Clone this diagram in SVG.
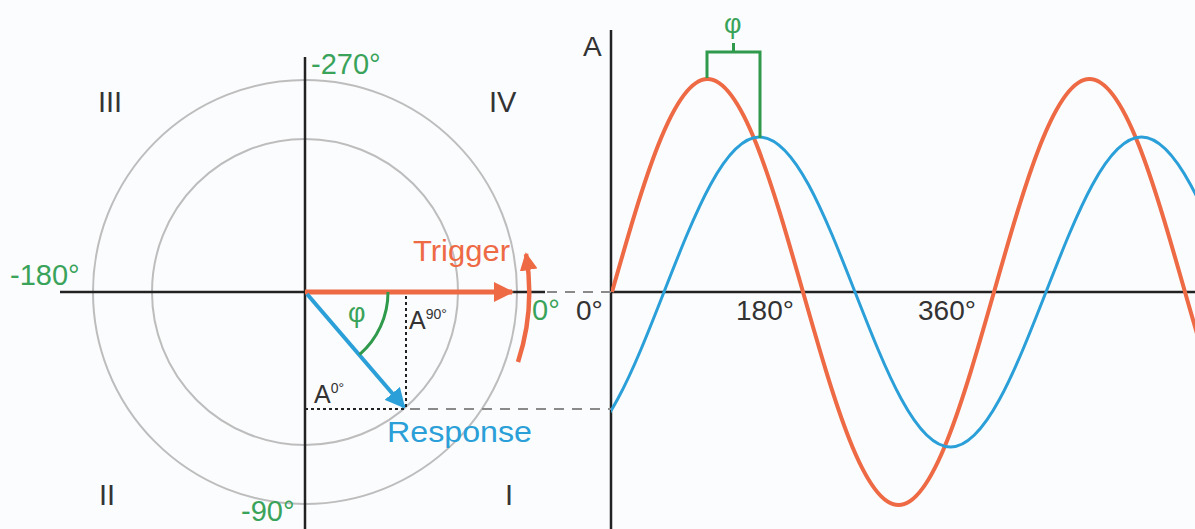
<svg xmlns="http://www.w3.org/2000/svg" width="1195" height="529" viewBox="0 0 1195 529">
<style>
text{font-family:"Liberation Sans",Arial,sans-serif;}
.g{fill:#3aa35a;}
.k{fill:#333333;}
.o{fill:#ee6a45;}
.b{fill:#2a9fd8;}
.ring{fill:none;stroke:#bdbdbd;stroke-width:2;}
.axis{stroke:#222;stroke-width:2.5;fill:none;}
.dot{stroke:#222;stroke-width:2;stroke-dasharray:3 3;fill:none;}
.dash{stroke:#8a8a8a;stroke-width:2;stroke-dasharray:10 8;fill:none;}
</style>
<defs>
<marker id="ao" viewBox="0 0 10 10" refX="9" refY="5" markerWidth="4" markerHeight="4" orient="auto" markerUnits="strokeWidth"><path d="M0 0L10 5L0 10z" fill="#ee6a45"/></marker>
<marker id="ab" viewBox="0 0 10 10" refX="9" refY="5" markerWidth="5" markerHeight="5" orient="auto" markerUnits="strokeWidth"><path d="M0 0L10 5L0 10z" fill="#2a9fd8"/></marker>
<clipPath id="plot"><rect x="611" y="0" width="600" height="529"/></clipPath>
</defs>
<rect width="1195" height="529" fill="#fbfcfe"/>
<g id="polar-rings">
<circle class="ring" cx="305" cy="292" r="212"/>
<circle class="ring" cx="305" cy="292" r="153"/>
</g>
<g id="axes">
<line class="axis" x1="60" y1="292" x2="545" y2="292"/>
<line class="axis" x1="305" y1="57" x2="305" y2="529"/>
<line class="axis" x1="611" y1="30" x2="611" y2="529" stroke-width="3"/>
<line class="axis" x1="611" y1="292" x2="1195" y2="292" stroke-width="3"/>
</g>
<g id="waves" clip-path="url(#plot)">
<path id="trigger-wave" fill="none" stroke="#ee6a45" stroke-width="4" d="M612 292C643.1 182.9 672.9 79 707.5 79C742.1 79 771.9 182.9 803 292C834.1 401.1 863.9 505 898.5 505C933.1 505 962.9 401.1 994 292C1025.1 182.9 1054.9 79 1089.5 79C1124.1 79 1153.9 182.9 1185 292C1216.1 401.1 1245.9 505 1280.5 505"/>
<path id="response-wave" fill="none" stroke="#2a9fd8" stroke-width="3" d="M568.5 447C603.1 447 632.9 371.4 664 292C695.1 212.6 724.9 137 759.5 137C794.1 137 823.9 212.6 855 292C886.1 371.4 915.9 447 950.5 447C985.1 447 1014.9 371.4 1046 292C1077.1 212.6 1106.9 137 1141.5 137C1176.1 137 1205.9 212.6 1237 292"/>
</g>
<g id="connectors">
<line class="dot" x1="406" y1="296" x2="406" y2="409"/>
<line class="dot" x1="305" y1="409" x2="406" y2="409"/>
<line class="dash" x1="410" y1="409" x2="611" y2="409"/>
<line class="dash" x1="547" y1="292" x2="611" y2="292"/>
<line id="trigger-vector" x1="305" y1="292" x2="512" y2="292" stroke="#ee6a45" stroke-width="5" marker-end="url(#ao)"/>
<line id="response-vector" x1="307" y1="294" x2="404" y2="407" stroke="#2a9fd8" stroke-width="4" marker-end="url(#ab)"/>
<path id="rotation" d="M518 362A225 225 0 0 0 526 254" fill="none" stroke="#ee6a45" stroke-width="4.5" marker-end="url(#ao)"/>
<path id="phi-arc" d="M388 292A83 83 0 0 1 359.5 354.7" fill="none" stroke="#2f9a4b" stroke-width="3"/>
<path id="phi-bracket" d="M707 78V52H760V138M733.5 52V43" fill="none" stroke="#2f9a4b" stroke-width="3"/>
</g>
<g id="labels-polar">
<text class="g" x="311" y="74" font-size="29">-270°</text>
<text class="g" x="10" y="285" font-size="29">-180°</text>
<text class="g" x="241" y="521" font-size="29">-90°</text>
<text class="g" x="532" y="320" font-size="29">0°</text>
<text class="k" x="98" y="112" font-size="29">III</text>
<text class="k" x="489" y="112" font-size="29">IV</text>
<text class="k" x="99" y="505" font-size="29">II</text>
<text class="k" x="505" y="505" font-size="29">I</text>
<text class="o" x="413" y="261" font-size="29" textLength="97" lengthAdjust="spacingAndGlyphs">Trigger</text>
<text class="b" x="387" y="442" font-size="30" textLength="145" lengthAdjust="spacingAndGlyphs">Response</text>
<text class="g" x="348" y="322" font-size="27">φ</text>
<text class="k" x="409" y="329" font-size="25">A<tspan font-size="14" dy="-10">90°</tspan></text>
<text class="k" x="314" y="403" font-size="25">A<tspan font-size="14" dy="-10">0°</tspan></text>
</g>
<g id="labels-wave">
<text class="k" x="583" y="56" font-size="28">A</text>
<text class="g" x="724" y="33" font-size="27">φ</text>
<text class="k" x="576" y="320" font-size="28">0°</text>
<text class="k" x="736" y="320" font-size="28">180°</text>
<text class="k" x="918" y="320" font-size="28">360°</text>
</g>
</svg>
